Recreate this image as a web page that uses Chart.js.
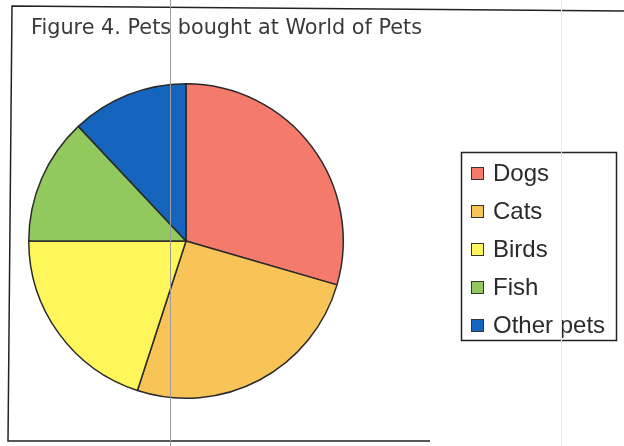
<!DOCTYPE html>
<html>
<head>
<meta charset="utf-8">
<script src="https://cdn.jsdelivr.net/npm/chart.js@4/dist/chart.umd.min.js"></script>
<style>
  html, body { margin: 0; padding: 0; background: #fff; }
  #wrap { position: relative; width: 624px; height: 446px; }
</style>
</head>
<body>
<div id="wrap"><canvas id="petChart" width="624" height="446"></canvas></div>
<script>
// ============ PETS PIE ============
const chartTitle = 'Figure 4. Pets bought at World of Pets';
const categories = ['Dogs', 'Cats', 'Birds', 'Fish', 'Other pets'];
const petValues = [29.5, 25.5, 20, 13, 12];
const petColors = ['#F47A6C', '#F8C457', '#FFF65C', '#92C95E', '#1565BF'];

// frame, title, boxed legend and the scan's stray lines
const decor = {
    id: 'decor',
    afterDraw(chart) {
        const c = chart.ctx;
        c.save();
        // outer frame (left, top, bottom) - slightly skewed like the scan
        c.strokeStyle = '#222';
        c.lineWidth = 1.5;
        c.beginPath();
        c.moveTo(624, 11); c.lineTo(12, 6); c.lineTo(8, 441); c.lineTo(430, 441);
        c.stroke();

        // title
        c.fillStyle = '#3a3a3a';
        c.font = '20.8px "DejaVu Sans", Verdana, sans-serif';
        c.textBaseline = 'alphabetic';
        c.fillText(chartTitle, 31, 34);

        // legend
        c.strokeStyle = '#222';
        c.lineWidth = 1.5;
        c.strokeRect(461.5, 152.5, 155, 188);
        const ds = chart.data.datasets[0];
        c.font = '24px "Liberation Sans", Arial, sans-serif';
        c.textBaseline = 'middle';
        chart.data.labels.forEach((lab, i) => {
            const y = 173 + i * 38;
            c.fillStyle = ds.backgroundColor[i];
            c.fillRect(471, y - 6, 13, 13);
            c.lineWidth = 1;
            c.strokeStyle = '#333';
            c.strokeRect(471.5, y - 5.5, 12, 12);
            c.fillStyle = '#2a2a2a';
            c.fillText(lab, 493, y + 1);
        });

        // stray scanner lines
        c.strokeStyle = '#9a9a9a';
        c.lineWidth = 1;
        c.beginPath(); c.moveTo(170.5, 0); c.lineTo(170.5, 446); c.stroke();
        c.strokeStyle = '#e4e8ee';
        c.beginPath(); c.moveTo(561.5, 0); c.lineTo(561.5, 446); c.stroke();
        c.restore();
    }
};

new Chart(document.getElementById('petChart'), {
    type: 'pie',
    data: {
        labels: categories,
        datasets: [{
            data: petValues,
            backgroundColor: petColors,
            borderColor: '#2a2a2a',
            borderWidth: 1.5
        }]
    },
    options: {
        responsive: false,
        animation: false,
        layout: { padding: { left: 28, top: 83, right: 280, bottom: 47 } },
        plugins: {
            legend: { display: false },
            title: { display: false },
            tooltip: { enabled: false }
        }
    },
    plugins: [decor]
});
</script>
</body>
</html>
